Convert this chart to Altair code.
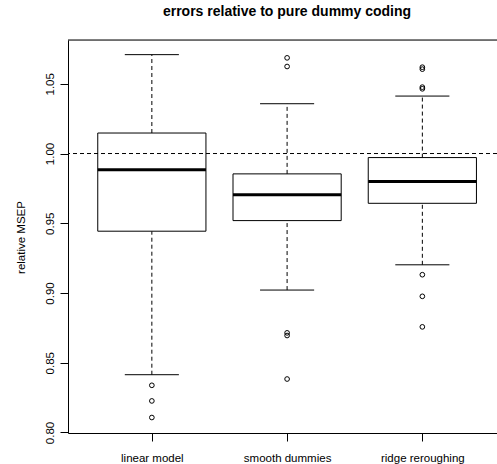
import json
import altair as alt
import pandas as pd

# ---- data ----
categories = ["linear model", "smooth dummies", "ridge reroughing"]
positions = [1, 2, 3]
lower_whisker = [0.8414, 0.9021, 0.9202]
q1 = [0.9443, 0.9519, 0.9643]
median = [0.9883, 0.9704, 0.9800]
q3 = [1.0147, 0.9854, 0.9971]
upper_whisker = [1.0709, 1.0357, 1.0412]
outliers_linear = [0.8338, 0.8226, 0.8107]
outliers_smooth = [1.0686, 1.0624, 0.8714, 0.8695, 0.8383]
outliers_ridge = [1.0619, 1.0605, 1.0476, 1.0464, 0.9131, 0.8976, 0.8757]
reference_level = 1.0
y_ticks = [0.80, 0.85, 0.90, 0.95, 1.00, 1.05]

FONT = "Liberation Sans"
W, H = 429, 393

stats = pd.DataFrame({
    "category": categories, "pos": positions,
    "lo": lower_whisker, "q1": q1, "med": median, "q3": q3, "hi": upper_whisker,
})
out_rows = []
for p, vals in zip(positions, [outliers_linear, outliers_smooth, outliers_ridge]):
    for v in vals:
        out_rows.append({"pos": p, "value": v})
outs = pd.DataFrame(out_rows)

label_expr = json.dumps(categories) + "[datum.value - 1]"

xscale = alt.Scale(domain=[0.38, 3.552], nice=False, zero=False)
yscale = alt.Scale(domain=[0.7996, 1.0814], nice=False, zero=False)

xaxis = alt.Axis(values=positions, labelExpr=label_expr, title=None, grid=False,
                 domainColor="black", tickColor="black", tickSize=8,
                 labelFont=FONT, labelFontSize=11.5, labelColor="black",
                 labelBaseline="alphabetic", labelPadding=20, labelFlush=False)
yaxis = alt.Axis(values=y_ticks, format=".2f", title="relative MSEP", grid=False,
                 domainColor="black", tickColor="black", tickSize=8,
                 labelFont=FONT, labelFontSize=11.5, labelColor="black",
                 labelAngle=270, labelAlign="center", labelBaseline="alphabetic",
                 labelPadding=7, labelFlush=False,
                 titleFont=FONT, titleFontSize=11.5, titleFontWeight="normal",
                 titleColor="black", titleBaseline="alphabetic", titleX=-44, titleY=197)

base = alt.Chart(stats).transform_calculate(
    xl="datum.pos - 0.4", xr="datum.pos + 0.4",
    sl="datum.pos - 0.2", sr="datum.pos + 0.2",
)

whisk_hi = base.mark_rule(color="black", strokeWidth=1, strokeDash=[4, 3]).encode(
    x=alt.X("pos:Q", scale=xscale, axis=xaxis),
    y=alt.Y("q3:Q", scale=yscale, axis=yaxis), y2="hi:Q")
whisk_lo = base.mark_rule(color="black", strokeWidth=1, strokeDash=[4, 3]).encode(
    x="pos:Q", y="lo:Q", y2="q1:Q")
staple_hi = base.mark_rule(color="black", strokeWidth=1).encode(
    x="sl:Q", x2="sr:Q", y="hi:Q")
staple_lo = base.mark_rule(color="black", strokeWidth=1).encode(
    x="sl:Q", x2="sr:Q", y="lo:Q")
boxes = base.mark_rect(fill="white", stroke="black", strokeWidth=1).encode(
    x="xl:Q", x2="xr:Q", y="q1:Q", y2="q3:Q")
medians = base.mark_rule(color="black", strokeWidth=3).encode(
    x="xl:Q", x2="xr:Q", y="med:Q")
points = alt.Chart(outs).mark_point(shape="circle", filled=False, color="black",
                                    strokeWidth=1, size=22, opacity=1).encode(
    x="pos:Q", y="value:Q")
ref = alt.Chart(pd.DataFrame({"v": [reference_level]})).mark_rule(
    color="black", strokeWidth=1, strokeDash=[4, 3]).encode(y="v:Q")
# top frame line (plot box continues past the right edge, as in the reference)
top_frame = alt.Chart(pd.DataFrame({"v": [reference_level]})).mark_rule(
    color="black", strokeWidth=1).encode(
    x=alt.value(0), x2=alt.value(W), y=alt.value(0))

chart = alt.layer(whisk_hi, whisk_lo, staple_hi, staple_lo, boxes, medians, points, ref,
                  top_frame).properties(
    width=W, height=H,
    title=alt.TitleParams("errors relative to pure dummy coding", font=FONT, fontSize=14,
                          fontWeight="bold", color="black", baseline="alphabetic",
                          offset=10, dx=4.5, anchor="middle"),
    autosize=alt.AutoSizeParams(type="none"),
    padding={"left": 68, "top": 40, "right": 0, "bottom": 31},
).configure_view(strokeWidth=0).configure(background="white")

chart.save("out.html", embed_options={"renderer": "svg", "actions": False})
